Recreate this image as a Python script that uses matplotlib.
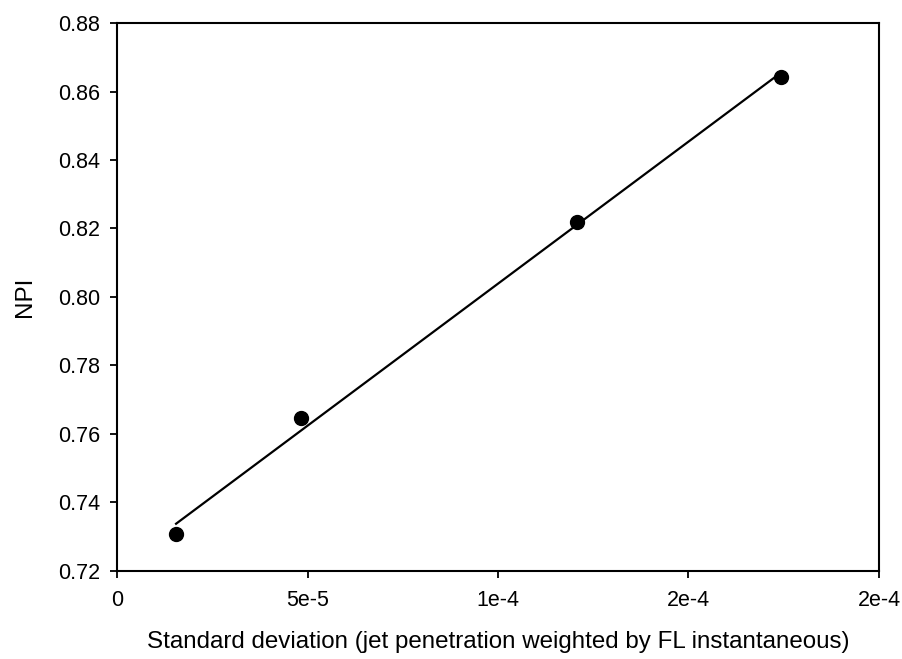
import numpy as np
import matplotlib
matplotlib.use('Agg')
import matplotlib.pyplot as plt

# data
std_dev = [1.55e-5, 4.83e-5, 1.2065e-4, 1.743e-4]
npi = [0.7306, 0.7645, 0.8219, 0.8642]

x_ticks = [0, 5e-5, 1e-4, 1.5e-4, 2e-4]
x_tick_labels = ['0', '5e-5', '1e-4', '2e-4', '2e-4']
y_ticks = [0.72, 0.74, 0.76, 0.78, 0.80, 0.82, 0.84, 0.86, 0.88]

plt.rcParams['font.family'] = ['Liberation Sans', 'DejaVu Sans']

fig = plt.figure(figsize=(9.03, 6.59), dpi=100)
ax = fig.add_axes([0.1296, 0.134, 0.8438, 0.831])

# linear regression line over the data range
slope, intercept = np.polyfit(std_dev, npi, 1)
xf = np.array([min(std_dev), max(std_dev)])
ax.plot(xf, slope * xf + intercept, color='black', linewidth=1.6)
ax.plot(std_dev, npi, 'o', color='black', markersize=10)

ax.set_xlim(0, 2e-4)
ax.set_ylim(0.72, 0.88)
ax.set_xticks(x_ticks)
ax.set_xticklabels(x_tick_labels)
ax.set_yticks(y_ticks)
ax.set_yticklabels([f'{v:.2f}' for v in y_ticks])

ax.tick_params(axis='both', direction='out', length=5, width=1.3, labelsize=15.5, colors='black')
ax.tick_params(axis='x', pad=9)
ax.tick_params(axis='y', pad=7)
for s in ax.spines.values():
    s.set_linewidth(1.5)

ax.set_xlabel('Standard deviation (jet penetration weighted by FL instantaneous)', fontsize=17.4, labelpad=14)
ax.set_ylabel('NPI', fontsize=17.4, labelpad=16)

fig.savefig('out.png', dpi=100)
